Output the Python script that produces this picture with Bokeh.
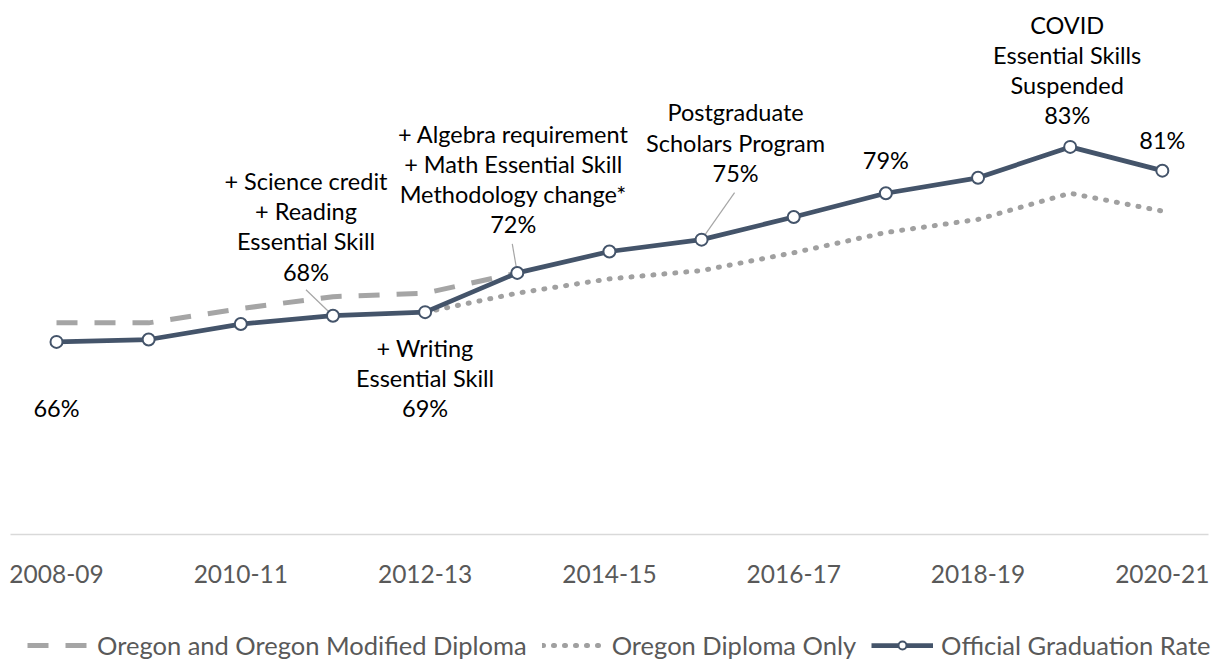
from bokeh.plotting import figure
from bokeh.models import Range1d, FixedTicker, Legend, LegendItem, ColumnDataSource
from bokeh.core.properties import value
from bokeh.embed import file_html
from bokeh.resources import INLINE

# ---------------- data ----------------
years = ["2008-09", "2009-10", "2010-11", "2011-12", "2012-13", "2013-14", "2014-15",
         "2015-16", "2016-17", "2017-18", "2018-19", "2019-20", "2020-21"]
official = [66.2, 66.4, 67.7, 68.4, 68.7, 72.0, 73.8, 74.8, 76.7, 78.7, 80.0, 82.6, 80.6]
modified_years = ["2008-09", "2009-10", "2010-11", "2011-12", "2012-13", "2013-14"]
modified = [67.8, 67.8, 69.0, 70.0, 70.3, 72.0]
diploma_years = ["2012-13", "2013-14", "2014-15", "2015-16", "2016-17", "2017-18",
                 "2018-19", "2019-20", "2020-21"]
diploma = [68.7, 70.3, 71.5, 72.2, 73.7, 75.4, 76.5, 78.7, 77.2]
tick_years = ["2008-09", "2010-11", "2012-13", "2014-15", "2016-17", "2018-19", "2020-21"]
axis_floor = 50

note_years = ["2008-09", "2011-12", "2012-13", "2013-14", "2015-16", "2017-18", "2019-20", "2020-21"]
note_texts = ["",
              "+ Science credit\n+ Reading\nEssential Skill",
              "+ Writing\nEssential Skill",
              "+ Algebra requirement\n+ Math Essential Skill\nMethodology change*",
              "Postgraduate\nScholars Program",
              "",
              "COVID\nEssential Skills\nSuspended",
              ""]
leader_years = ["2011-12", "2013-14", "2015-16"]

# ---------------- layout / style ----------------
W, H = 1217, 660
PX_PER_X = 92.154          # pixels per category
PX_PER_PT = 11.89          # pixels per percentage point
FIRST_X_PX = 56            # screen x of first category
AXIS_Y_PX = 534            # screen y of the category axis line
X0 = -FIRST_X_PX / PX_PER_X
X1 = X0 + W / PX_PER_X
Y0 = axis_floor - (H - AXIS_Y_PX) / PX_PER_PT
Y1 = Y0 + H / PX_PER_PT

note_dx = [0, -27, 0, -4, 34, 0, -3, 0]
note_dy = [66, -89.5, 66, -94, -97, -33, -77, -31]
leader_dx = [-27, -5, 33]
leader_dy = [-26, -29, -47]

FONT = "Lato"
DARK = "#44546a"
GRAY = "#a5a5a5"

idx = {y: i for i, y in enumerate(years)}

p = figure(width=W, height=H, x_range=Range1d(X0, X1), y_range=Range1d(Y0, Y1),
           output_backend="svg", toolbar_location=None, y_axis_location=None,
           min_border_left=0, min_border_right=0, min_border_top=0, min_border_bottom=0)
p.outline_line_color = None
p.xgrid.visible = False
p.ygrid.visible = False
p.background_fill_color = "white"
p.border_fill_color = "white"

ax = p.xaxis[0]
ax.fixed_location = axis_floor
ax.bounds = (-0.5, len(years) - 0.5)
ax.ticker = FixedTicker(ticks=[idx[y] for y in tick_years])
ax.major_label_overrides = {idx[y]: y for y in tick_years}
ax.axis_line_color = "#d9d9d9"
ax.axis_line_width = 1.5
ax.major_tick_line_color = None
ax.minor_tick_line_color = None
ax.major_label_text_font = FONT
ax.major_label_text_font_size = "24.5px"
ax.major_label_text_color = "#595959"
ax.major_label_standoff = 24

r_mod = p.line([idx[y] for y in modified_years], modified, line_color=GRAY, line_width=5,
               line_dash="21 17")
r_dip = p.line([idx[y] for y in diploma_years], diploma, line_color="#a0a0a0", line_width=5,
               line_dash="1 10", line_cap="round")

# leader lines
lx = [idx[y] for y in leader_years]
ly = [official[idx[y]] for y in leader_years]
p.segment(x0=[x + dx / PX_PER_X for x, dx in zip(lx, leader_dx)],
          y0=[y - dy / PX_PER_PT for y, dy in zip(ly, leader_dy)],
          x1=lx, y1=ly, line_color="#a6a6a6", line_width=1.2)

r_off = p.line(list(range(len(years))), official, line_color=DARK, line_width=4.75)
r_pts = p.scatter(list(range(len(years))), official, size=12, fill_color="white",
                  line_color=DARK, line_width=2)

labels = []
for y, t in zip(note_years, note_texts):
    pct = f"{round(official[idx[y]])}%"
    labels.append(t + "\n" + pct if t else pct)
src = ColumnDataSource(dict(x=[idx[y] for y in note_years],
                            y=[official[idx[y]] for y in note_years],
                            text=labels, dx=note_dx, dy=note_dy))
p.text(x="x", y="y", text="text", x_offset="dx", y_offset="dy", source=src,
       text_align="center", text_baseline="middle", text_font=value(FONT),
       text_font_size="23.5px", text_color="#000000", text_line_height=1.08)

legend = Legend(items=[
    LegendItem(label="Oregon and Oregon Modified Diploma", renderers=[r_mod]),
    LegendItem(label="Oregon Diploma Only", renderers=[r_dip]),
    LegendItem(label="Official Graduation Rate", renderers=[r_off, r_pts]),
], orientation="horizontal", location=(27, 0), padding=0, margin=0, spacing=15,
    glyph_width=62, glyph_height=20, label_standoff=8, border_line_color=None,
    background_fill_alpha=0, label_text_font=FONT, label_text_font_size="25.5px",
    label_text_color="#595959")
p.add_layout(legend, "center")

open("out.html", "w").write(file_html(p, INLINE))
